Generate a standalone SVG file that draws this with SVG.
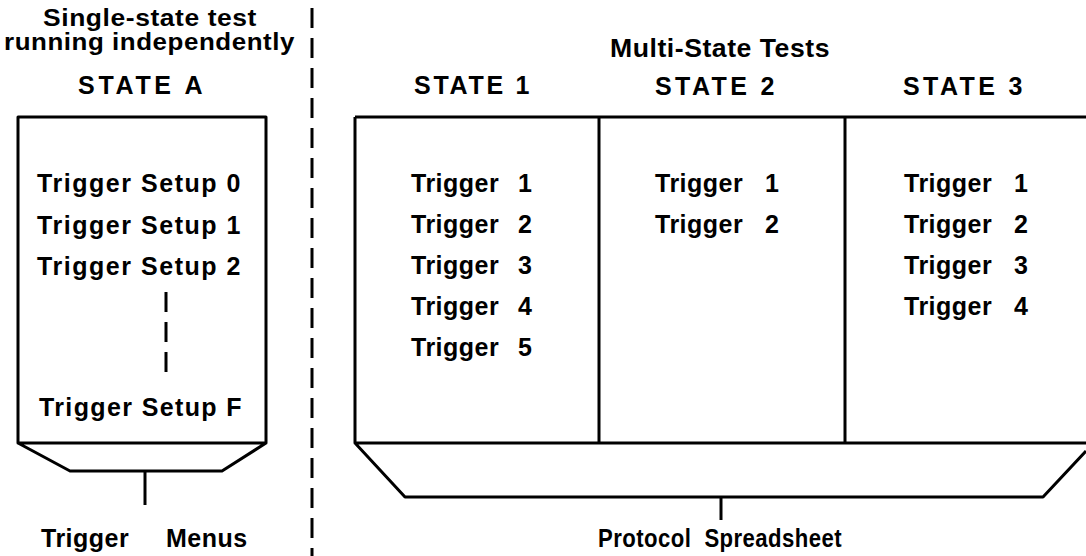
<svg xmlns="http://www.w3.org/2000/svg" width="1086" height="556" viewBox="0 0 1086 556">
<style>
text{font-family:"Liberation Sans",Arial,sans-serif;font-weight:bold;font-size:25px;letter-spacing:0.5px;fill:#000}
text.hd{font-size:23px}
.ln{fill:none;stroke:#000;stroke-width:3;stroke-linejoin:round}
.dash{fill:none;stroke:#000;stroke-width:3;stroke-dasharray:20 10}
</style>
<rect width="1086" height="556" fill="#fff"/>
<g id="headings">
<text class="hd" x="43" y="26" textLength="214" lengthAdjust="spacingAndGlyphs">Single-state test</text>
<text class="hd" x="4" y="50" textLength="291" lengthAdjust="spacingAndGlyphs">running independently</text>
<text x="610" y="57" textLength="220" lengthAdjust="spacingAndGlyphs">Multi-State Tests</text>
</g>
<g id="separator">
<line class="dash" x1="312" y1="8" x2="312" y2="556"/>
</g>
<g id="stateA">
<text x="78" y="94" textLength="125" lengthAdjust="spacing">STATE A</text>
<path class="ln" d="M18,117 H266 V443 H18 Z M18,443 L70,471 H222 L266,443"/>
<text x="37" y="192" textLength="204" lengthAdjust="spacing">Trigger Setup 0</text>
<text x="37" y="234" textLength="204" lengthAdjust="spacing">Trigger Setup 1</text>
<text x="37" y="275" textLength="204" lengthAdjust="spacing">Trigger Setup 2</text>
<line class="dash" x1="166" y1="292" x2="166" y2="372"/>
<text x="39" y="416" textLength="203" lengthAdjust="spacing">Trigger Setup F</text>
</g>
<g id="multistate">
<path class="ln" d="M355,117 H1086 M355,117 V443 H1086 M599,117 V443 M845,117 V443 M355,443 L405,497 H1043 L1086,451"/>
</g>
<g id="state1">
<text x="414" y="94" textLength="116" lengthAdjust="spacing">STATE 1</text>
<text x="411" y="192">Trigger<tspan x="518">1</tspan></text>
<text x="411" y="233">Trigger<tspan x="518">2</tspan></text>
<text x="411" y="274">Trigger<tspan x="518">3</tspan></text>
<text x="411" y="315">Trigger<tspan x="518">4</tspan></text>
<text x="411" y="356">Trigger<tspan x="518">5</tspan></text>
</g>
<g id="state2">
<text x="655" y="95" textLength="120" lengthAdjust="spacing">STATE 2</text>
<text x="655" y="192">Trigger<tspan x="765">1</tspan></text>
<text x="655" y="233">Trigger<tspan x="765">2</tspan></text>
</g>
<g id="state3">
<text x="903" y="95" textLength="120" lengthAdjust="spacing">STATE 3</text>
<text x="904" y="192">Trigger<tspan x="1014">1</tspan></text>
<text x="904" y="233">Trigger<tspan x="1014">2</tspan></text>
<text x="904" y="274">Trigger<tspan x="1014">3</tspan></text>
<text x="904" y="315">Trigger<tspan x="1014">4</tspan></text>
</g>
<g id="connectors">
<line class="ln" x1="145" y1="471" x2="145" y2="505"/>
<line class="ln" x1="721" y1="497" x2="721" y2="520"/>
</g>
<g id="labels">
<text x="41" y="547">Trigger<tspan x="166">Menus</tspan></text>
<text x="598" y="547" textLength="244" lengthAdjust="spacingAndGlyphs" style="white-space:pre">Protocol  Spreadsheet</text>
</g>
</svg>
